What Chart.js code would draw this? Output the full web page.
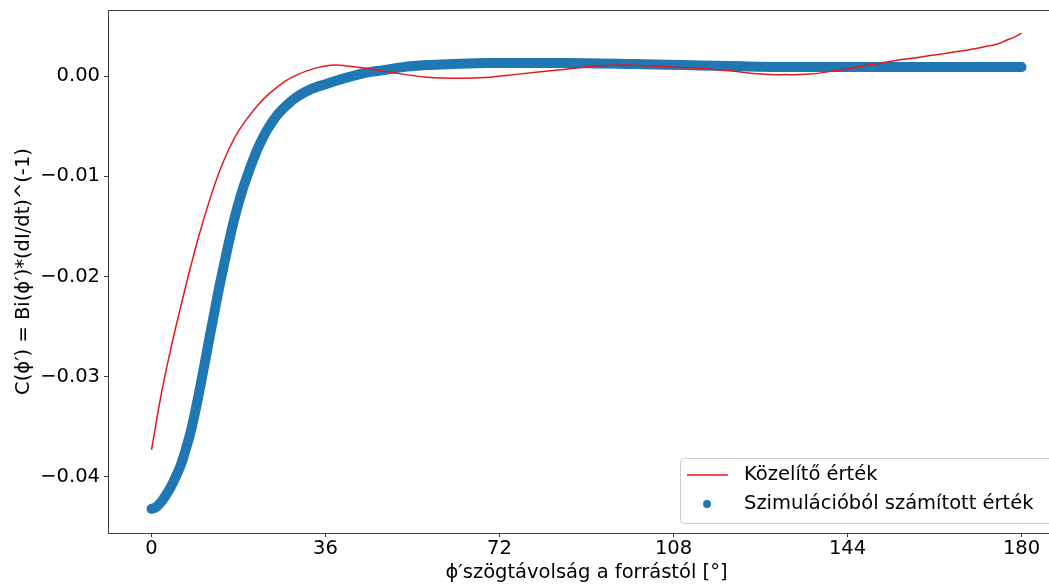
<!DOCTYPE html>
<html>
<head>
<meta charset="utf-8">
<script src="https://cdn.jsdelivr.net/npm/chart.js@4.4.1/dist/chart.umd.min.js"></script>
<style>
  html, body { margin: 0; padding: 0; background: #fff; }
  #wrap { width: 1049px; height: 587px; overflow: hidden; position: relative; }
  #chart-c-phi { display: block; }
</style>
</head>
<body>
<div id="wrap">
  <canvas id="chart-c-phi" width="1066" height="587" style="width:1066px;height:587px"></canvas>
</div>
<script>
// fitted curve (Közelítő érték)
const phi_fit = [0, 2, 4, 6, 8, 10, 12, 14, 16, 18, 20, 22, 24, 26, 28, 30, 32, 34, 36, 38, 40, 44, 48, 52, 57, 64, 70, 76, 84, 92, 98, 104, 112, 120, 126, 131, 136, 141, 146, 151, 156, 162, 166, 170, 173, 175, 177, 178.5, 180];
const c_fit = [-0.0373, -0.0318, -0.0272, -0.0231, -0.0192, -0.0156, -0.0124, -0.0096, -0.0073, -0.0055, -0.0041, -0.0029, -0.0019, -0.0011, -0.0004, 0.0001, 0.0005, 0.0008, 0.00102, 0.0011, 0.00104, 0.0008, 0.0005, 0.0002, -0.0001, -0.0002, -0.0001, 0.0002, 0.0006, 0.0010, 0.0011, 0.0010, 0.0008, 0.0005, 0.0002, 0.00015, 0.0002, 0.0005, 0.0009, 0.0013, 0.0017, 0.0021, 0.0024, 0.0027, 0.0030, 0.0032, 0.0036, 0.0039, 0.0043];

// simulated values (Szimulációból számított érték)
const phi_sim = [0, 1, 2, 3, 4, 5, 6, 7, 8, 9, 10, 11, 12, 13, 14, 15, 16, 17, 18, 19, 20, 21, 22, 23, 24, 26, 28, 30, 33, 36, 40, 44, 48, 52, 57, 62, 70, 85, 100, 110, 120, 135, 150, 165, 180];
const c_sim = [-0.0432, -0.0430, -0.0425, -0.0418, -0.0410, -0.0400, -0.0389, -0.0374, -0.0357, -0.0336, -0.0312, -0.0287, -0.0261, -0.0236, -0.0211, -0.0188, -0.0166, -0.0145, -0.0127, -0.0111, -0.0097, -0.0084, -0.0072, -0.0062, -0.0053, -0.0039, -0.0029, -0.0021, -0.0013, -0.0008, -0.0002, 0.0003, 0.0006, 0.0009, 0.0011, 0.0012, 0.0013, 0.0013, 0.0012, 0.0011, 0.0010, 0.0009, 0.0009, 0.0009, 0.0009];

const x_ticks = [0, 36, 72, 108, 144, 180];
const y_ticks = [-0.04, -0.03, -0.02, -0.01, 0.00];

const FONT = { family: 'DejaVu Sans', size: 19.5, lineHeight: 1.2 };
const SPINE = '#3c3c3c';

Chart.defaults.color = '#000';
Chart.defaults.font.family = FONT.family;

function toPoints(xs, ys) {
  return xs.map((x, i) => ({ x: x, y: ys[i] }));
}

// black box round the plot area, like matplotlib spines
const frame = {
  id: 'frame',
  afterDatasetsDraw(chart) {
    const { ctx, chartArea } = chart;
    ctx.save();
    ctx.strokeStyle = SPINE;
    ctx.lineWidth = 1;
    ctx.strokeRect(Math.round(chartArea.left) + 0.5, Math.round(chartArea.top) + 0.5,
      Math.round(chartArea.right - chartArea.left), Math.round(chartArea.bottom - chartArea.top));
    ctx.restore();
  }
};

// legend in the lower right corner of the plot area
const cornerLegend = {
  id: 'cornerLegend',
  afterDraw(chart) {
    const { ctx, chartArea } = chart;
    const boxW = 375, boxH = 65;
    const left = Math.round(chartArea.right - 10 - boxW);
    const top = Math.round(chartArea.bottom - 10 - boxH);
    ctx.save();
    ctx.beginPath();
    ctx.roundRect(left + 0.5, top + 0.5, boxW, boxH, 4);
    ctx.fillStyle = 'rgba(255,255,255,0.8)';
    ctx.fill();
    ctx.strokeStyle = '#cccccc';
    ctx.lineWidth = 1;
    ctx.stroke();

    ctx.font = FONT.size + 'px "' + FONT.family + '"';
    ctx.textBaseline = 'middle';
    ctx.textAlign = 'left';
    chart.data.datasets.forEach((ds, i) => {
      const cy = top + 17 + i * 29;
      if (ds.legendMark === 'line') {
        ctx.beginPath();
        ctx.moveTo(left + 7, cy);
        ctx.lineTo(left + 48, cy);
        ctx.strokeStyle = ds.borderColor;
        ctx.lineWidth = ds.borderWidth;
        ctx.stroke();
      } else {
        ctx.beginPath();
        ctx.arc(left + 27, cy, 4, 0, Math.PI * 2);
        ctx.fillStyle = ds.borderColor;
        ctx.fill();
      }
      ctx.fillStyle = '#000';
      ctx.fillText(ds.label, left + 64, cy);
    });
    ctx.restore();
  }
};

const ctx = document.getElementById('chart-c-phi');
const chart = new Chart(ctx, {
  type: 'scatter',
  plugins: [frame, cornerLegend],
  data: {
    datasets: [
      {
        label: 'Közelítő érték',
        legendMark: 'line',
        data: toPoints(phi_fit, c_fit),
        showLine: true,
        borderColor: '#e3191c',
        borderWidth: 1.5,
        pointRadius: 0,
        tension: 0.4
      },
      {
        label: 'Szimulációból számított érték',
        legendMark: 'dot',
        data: toPoints(phi_sim, c_sim),
        showLine: true,
        borderColor: '#1f77b4',
        borderWidth: 10,
        borderCapStyle: 'round',
        borderJoinStyle: 'round',
        cubicInterpolationMode: 'monotone',
        pointRadius: 0
      }
    ]
  },
  options: {
    responsive: false,
    devicePixelRatio: 1,
    animation: false,
    layout: { padding: { top: 10, right: 1, bottom: 0, left: 0 } },
    plugins: {
      legend: { display: false },
      tooltip: { enabled: false }
    },
    scales: {
      x: {
        type: 'linear',
        min: -9,
        max: 189,
        afterBuildTicks: scale => { scale.ticks = x_ticks.map(v => ({ value: v })); },
        afterFit: scale => {
          scale.height = 54;
          scale.paddingLeft = 0;
          scale.paddingRight = 0;
        },
        border: { display: false },
        grid: { drawOnChartArea: false, drawTicks: true, tickLength: 4, color: SPINE },
        ticks: { font: FONT, padding: 0, maxRotation: 0, callback: v => String(v) },
        title: {
          display: true,
          text: 'ϕ′szögtávolság a forrástól [°]',
          font: FONT,
          padding: { top: 0, bottom: 2 }
        }
      },
      y: {
        type: 'linear',
        min: -0.0456,
        max: 0.0066,
        afterBuildTicks: scale => { scale.ticks = y_ticks.map(v => ({ value: v })); },
        afterFit: scale => {
          scale.width = 108;
          scale.paddingTop = 0;
          scale.paddingBottom = 0;
        },
        border: { display: false },
        grid: { drawOnChartArea: false, drawTicks: true, tickLength: 4, color: SPINE },
        ticks: {
          font: FONT,
          padding: 4,
          callback: v => (v < 0 ? '−' : '') + Math.abs(v).toFixed(2)
        },
        title: {
          display: true,
          text: 'C(ϕ′) = Bi(ϕ′)*(dI/dt)^(-1)',
          font: FONT,
          padding: { top: 12, bottom: 0 }
        }
      }
    }
  }
});
</script>
</body>
</html>
